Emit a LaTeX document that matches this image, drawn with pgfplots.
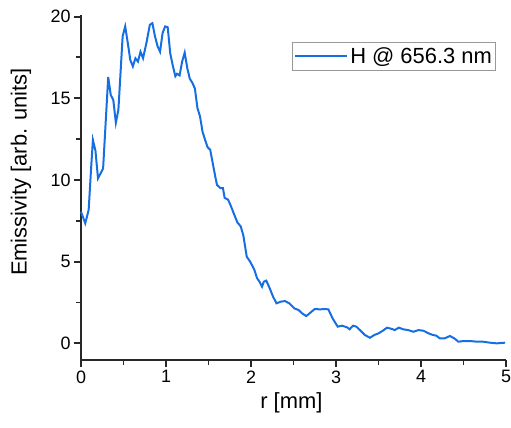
\documentclass[border=0pt]{standalone}
\usepackage{fontspec}
\setmainfont{Liberation Sans}
\usepackage{pgfplots}
\pgfplotsset{compat=1.18}
\definecolor{hblue}{RGB}{22,111,226}
\definecolor{axgray}{RGB}{40,40,40}

\pgfplotstableread{
r     e
0.00  8.06
0.05  7.35
0.09  8.16
0.12  10.8
0.14  12.45
0.17  11.8
0.20  10.1
0.23  10.4
0.26  10.7
0.32  16.3
0.35  15.2
0.38  14.9
0.41  13.5
0.44  14.3
0.49  18.8
0.52  19.4
0.55  18.4
0.58  17.35
0.61  16.95
0.64  17.45
0.67  17.25
0.70  17.85
0.73  17.45
0.77  18.4
0.81  19.5
0.84  19.6
0.87  18.8
0.90  18.2
0.93  17.85
0.96  19.0
0.99  19.4
1.02  19.35
1.05  17.75
1.08  17.0
1.11  16.35
1.13  16.5
1.16  16.4
1.19  17.25
1.22  17.8
1.25  16.85
1.28  16.2
1.31  15.95
1.34  15.6
1.37  14.4
1.40  13.9
1.43  12.95
1.46  12.45
1.49  12.0
1.52  11.85
1.54  11.3
1.58  10.2
1.60  9.7
1.64  9.5
1.67  9.5
1.69  8.9
1.73  8.8
1.76  8.45
1.79  8.05
1.84  7.4
1.88  7.15
1.91  6.6
1.95  5.3
1.99  5.0
2.04  4.5
2.07  4.0
2.10  3.77
2.13  3.47
2.15  3.77
2.18  3.84
2.22  3.37
2.26  2.85
2.30  2.45
2.35  2.55
2.40  2.59
2.45  2.45
2.51  2.14
2.56  2.04
2.60  1.84
2.65  1.67
2.69  1.84
2.75  2.1
2.81  2.08
2.87  2.1
2.91  2.08
2.96  1.53
3.02  1.02
3.07  1.08
3.13  0.98
3.16  0.86
3.20  1.08
3.24  1.02
3.29  0.77
3.34  0.51
3.40  0.34
3.45  0.51
3.50  0.61
3.55  0.77
3.60  0.96
3.66  0.88
3.69  0.81
3.74  0.96
3.79  0.86
3.85  0.81
3.91  0.71
3.97  0.81
4.03  0.77
4.09  0.61
4.14  0.51
4.18  0.47
4.22  0.31
4.28  0.31
4.34  0.45
4.39  0.31
4.44  0.10
4.50  0.14
4.58  0.14
4.66  0.10
4.73  0.10
4.81  0.04
4.89  0.00
4.99  0.04
}\emissivity

\begin{document}
\begin{tikzpicture}
\begin{axis}[
    name=ax,
    scale only axis,
    width=425bp, height=345bp,
    xmin=0, xmax=5, ymin=-1.02, ymax=20.1,
    axis x line*=bottom, axis y line*=left,
    axis line style={-, line width=2pt, axgray},
    xtick={0,1,2,3,4,5}, ytick={0,5,10,15,20},
    minor xtick={0.5,1.5,2.5,3.5,4.5},
    minor ytick={2.5,7.5,12.5,17.5},
    tick align=outside,
    major tick length=7bp, minor tick length=4.5bp,
    every major tick/.append style={line width=2pt, draw=axgray},
    every minor tick/.append style={line width=2pt, draw=axgray},
    /pgf/number format/assume math mode=true,
    tick label style={font=\fontsize{18}{21}\selectfont},
    label style={font=\fontsize{22}{26}\selectfont},
    xlabel={r [mm]},
    ylabel={Emissivity [arb. units]},
    xlabel style={at={(axis description cs:0.495,0)}, anchor=center, yshift=-43bp},
    ylabel style={at={(axis description cs:-0.141,0.545)}, anchor=center},
    legend style={at={(0.976,0.922)}, anchor=north east, draw=black!40,
        line width=0.8pt, font=\fontsize{22}{26}\selectfont,
        inner xsep=1.5bp, inner ysep=3.5bp, cells={anchor=west}},
    legend image code/.code={\draw[#1] (-3bp,0bp) -- (49bp,0bp);},
    clip=false,
]
\addplot[draw=hblue, line width=2pt] table[x=r, y=e] {\emissivity};
\addlegendentry{H @ 656.3 nm}
\end{axis}
\pgfresetboundingbox
\path[use as bounding box] ([shift={(-81bp,-68bp)}]ax.south west) rectangle ([shift={(5bp,15bp)}]ax.north east);
\end{tikzpicture}
\end{document}
